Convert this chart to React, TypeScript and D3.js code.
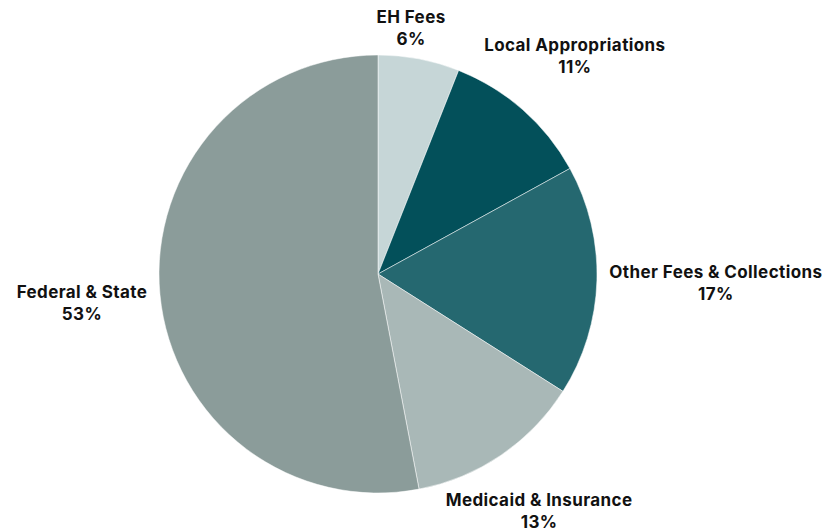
import React from "react";
import * as d3 from "d3";

const categories = ["EH Fees", "Local Appropriations", "Other Fees & Collections", "Medicaid & Insurance", "Federal & State"];
const values = [6, 11, 17, 13, 53];
const colors = ["#c6d6d7", "#03505a", "#256870", "#a9b8b7", "#8b9c9a"];
// label offsets relative to the slice's outer-edge midpoint
const labelOffsets: [number, number][] = [[-8, -24], [52, -47], [119, 9], [38, 63], [-78, 15]];

const W = 831, H = 531;
const cx = 378, cy = 274, R = 219;

export default function App() {
  const pie = d3.pie<number>().sort(null).value((d) => d);
  const arcs = pie(values);
  const arc = d3.arc<d3.PieArcDatum<number>>().innerRadius(0).outerRadius(R);
  const total = d3.sum(values);
  return (
    <svg width={W} height={H} style={{ position: "fixed", left: 0, top: 0, background: "#fff" }}
      fontFamily="Inter, 'Noto Sans', sans-serif">
      <g transform={`translate(${cx},${cy})`}>
        {arcs.map((a, i) => (
          <path key={i} d={arc(a) ?? ""} fill={colors[i]} stroke="#ffffff" strokeWidth={0.5} />
        ))}
        {arcs.map((a, i) => {
          const mid = (a.startAngle + a.endAngle) / 2;
          const px = Math.sin(mid) * R + labelOffsets[i][0];
          const py = -Math.cos(mid) * R + labelOffsets[i][1];
          return (
            <text key={"t" + i} x={px} y={py} textAnchor="middle" fontSize={17} fontWeight={700}
              letterSpacing={0.4} fill="#111">
              <tspan x={px} dy={-12}>{categories[i]}</tspan>
              <tspan x={px} dy={22}>{Math.round((values[i] / total) * 100)}%</tspan>
            </text>
          );
        })}
      </g>
    </svg>
  );
}
